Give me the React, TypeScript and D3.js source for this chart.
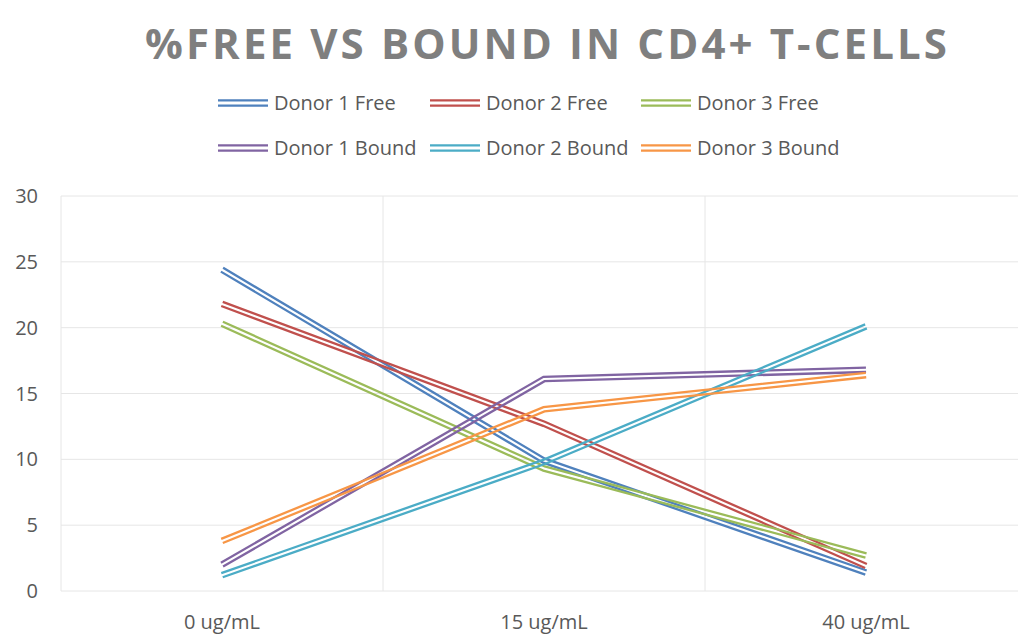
import React, { useEffect, useRef } from 'react';
import * as d3 from 'd3';

const categories = ['0 ug/mL', '15 ug/mL', '40 ug/mL'];
const seriesNames = ['Donor 1 Free', 'Donor 2 Free', 'Donor 3 Free', 'Donor 1 Bound', 'Donor 2 Bound', 'Donor 3 Bound'];
const donor1Free = [24.4, 9.9, 1.4];
const donor2Free = [21.8, 12.7, 1.9];
const donor3Free = [20.3, 9.3, 2.7];
const donor1Bound = [2.0, 16.1, 16.8];
const donor2Bound = [1.2, 9.8, 20.1];
const donor3Bound = [3.8, 13.8, 16.4];
const yTicks = [0, 5, 10, 15, 20, 25, 30];
const colors = ['#4F81BD', '#C0504D', '#9BBB59', '#8064A2', '#4BACC6', '#F79646'];

const allSeries = [donor1Free, donor2Free, donor3Free, donor1Bound, donor2Bound, donor3Bound];

// offset a polyline sideways by d px (miter joins), for the double-line look
function offsetLine(pts: [number, number][], d: number): [number, number][] {
  const normals = [];
  for (let i = 0; i < pts.length - 1; i++) {
    const dx = pts[i + 1][0] - pts[i][0];
    const dy = pts[i + 1][1] - pts[i][1];
    const len = Math.hypot(dx, dy);
    normals.push([-dy / len, dx / len]);
  }
  return pts.map((p, i) => {
    if (i === 0) return [p[0] + d * normals[0][0], p[1] + d * normals[0][1]];
    if (i === pts.length - 1) {
      const n = normals[normals.length - 1];
      return [p[0] + d * n[0], p[1] + d * n[1]];
    }
    const a = normals[i - 1], b = normals[i];
    const k = 1 + a[0] * b[0] + a[1] * b[1];
    return [p[0] + d * (a[0] + b[0]) / k, p[1] + d * (a[1] + b[1]) / k];
  });
}

const App = () => {
  const svgRef = useRef(null);

  useEffect(() => {
    const svg = d3.select(svgRef.current);
    svg.selectAll('*').remove();
    const font = 'Open Sans, Liberation Sans, sans-serif';
    const left = 61, right = 1027, top = 196, bottom = 591;

    const x = d3.scaleBand().domain(categories).range([left, right]);
    const y = d3.scaleLinear().domain([0, 30]).range([bottom, top]);

    // title
    svg.append('text')
      .attr('x', 145).attr('y', 59)
      .attr('textLength', 802)
      .attr('lengthAdjust', 'spacing')
      .style('font-family', font)
      .style('font-weight', 'bold')
      .style('font-size', '42px')
      .style('fill', '#7F7F7F')
      .text('%FREE VS BOUND IN CD4+ T-CELLS');

    // gridlines
    const g = svg.append('g');
    g.selectAll('.hgrid').data(yTicks).enter().append('line')
      .attr('x1', left).attr('x2', right)
      .attr('y1', d => y(d)).attr('y2', d => y(d))
      .style('stroke', '#E6E6E6').style('stroke-width', 1);
    const vlines = [left, ...categories.map(c => x(c) + x.bandwidth())];
    g.selectAll('.vgrid').data(vlines).enter().append('line')
      .attr('x1', d => d).attr('x2', d => d)
      .attr('y1', top).attr('y2', bottom)
      .style('stroke', '#E6E6E6').style('stroke-width', 1);

    // y tick labels
    g.selectAll('.ylab').data(yTicks).enter().append('text')
      .attr('x', 38).attr('y', d => y(d)).attr('dy', '0.35em')
      .attr('text-anchor', 'end')
      .style('font-family', font).style('font-size', '20px').style('fill', '#595959')
      .text(d => d);

    // x tick labels
    g.selectAll('.xlab').data(categories).enter().append('text')
      .attr('x', d => x(d) + x.bandwidth() / 2).attr('y', 629)
      .attr('text-anchor', 'middle')
      .style('font-family', font).style('font-size', '20px').style('fill', '#595959')
      .text(d => d);

    const line = d3.line();
    allSeries.forEach((vals, i) => {
      const pts: [number, number][] = vals.map((v, j) => [x(categories[j]) + x.bandwidth() / 2, y(v)]);
      [-2.2, 2.2].forEach(off => {
        g.append('path')
          .attr('d', line(offsetLine(pts, off)))
          .style('fill', 'none')
          .style('stroke', colors[i])
          .style('stroke-width', 2.3)
          .style('stroke-linejoin', 'miter');
      });
    });

    // legend
    const legendX = [218, 430, 641];
    seriesNames.forEach((name, i) => {
      const lx = legendX[i % 3];
      const ly = i < 3 ? 103 : 148;
      [-2.7, 2.7].forEach(off => {
        svg.append('line')
          .attr('x1', lx).attr('x2', lx + 50)
          .attr('y1', ly + off).attr('y2', ly + off)
          .style('stroke', colors[i]).style('stroke-width', 2.3);
      });
      svg.append('text')
        .attr('x', lx + 56).attr('y', ly).attr('dy', '0.35em')
        .style('font-family', font).style('font-size', '20px').style('fill', '#595959')
        .text(name);
    });
  }, []);

  return (
    <svg ref={svgRef} width={1018} height={636} style={{ position: 'absolute', left: 0, top: 0 }}></svg>
  );
};

export default App;
